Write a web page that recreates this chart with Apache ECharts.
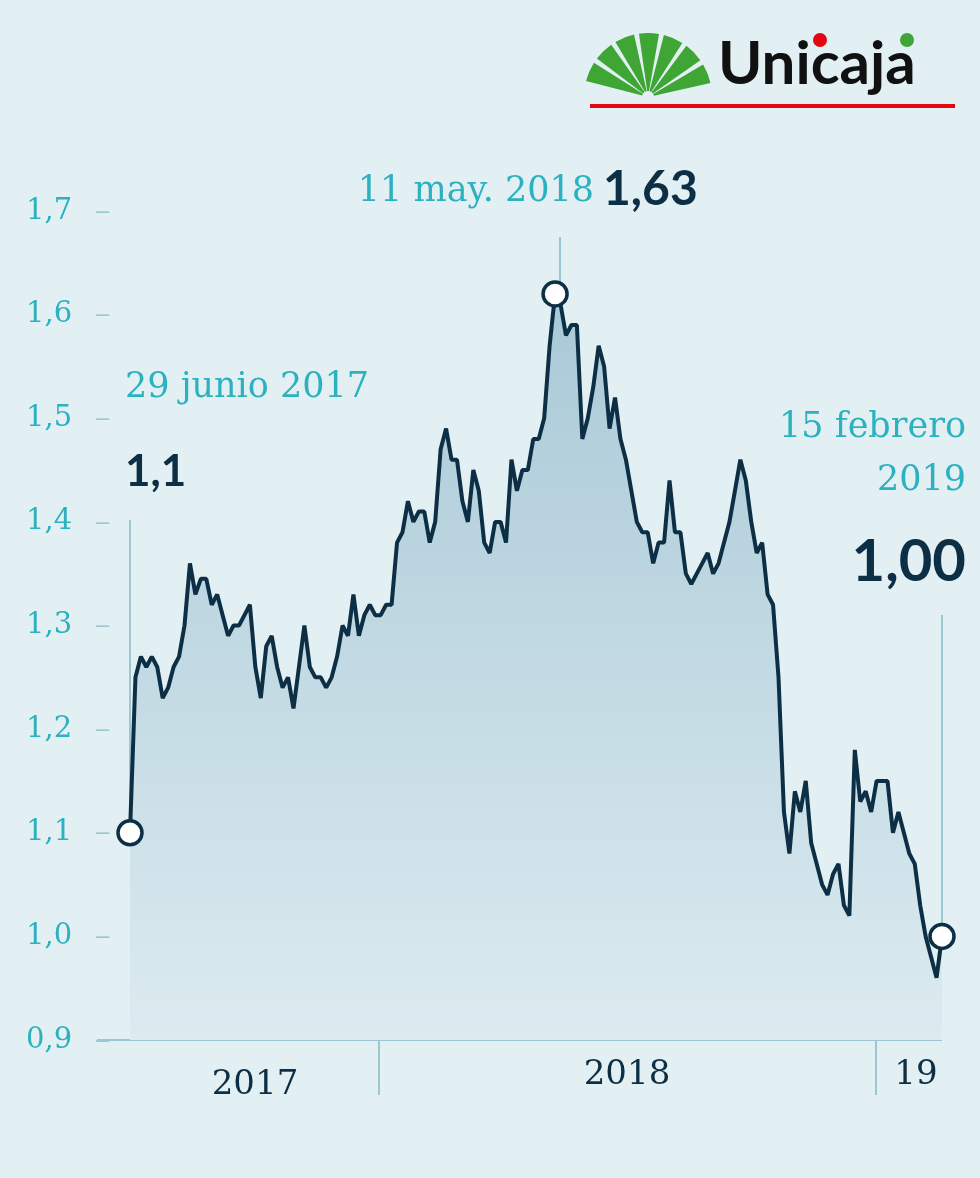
<!DOCTYPE html>
<html><head><meta charset="utf-8">
<script src="https://cdn.jsdelivr.net/npm/echarts@6/dist/echarts.min.js"></script>
<style>html,body{margin:0;padding:0;background:#e3f0f3}#c{width:980px;height:1178px}</style>
</head><body><div id="c"></div>
<script>
const startDate = '29 junio 2017';
const peakDate = '11 may. 2018';
const endDate = '15 febrero 2019';
const yearLabels = ['2017', '2018', '19'];
const yTicks = [0.9, 1.0, 1.1, 1.2, 1.3, 1.4, 1.5, 1.6, 1.7];
const prices = [1.10,1.25,1.27,1.26,1.27,1.26,1.23,1.24,1.26,1.27,1.30,1.36,1.33,1.345,1.345,1.32,1.33,1.31,1.29,1.30,
1.30,1.31,1.32,1.26,1.23,1.28,1.29,1.26,1.24,1.25,1.22,1.26,1.30,1.26,1.25,1.25,1.24,1.25,1.27,1.30,
1.29,1.33,1.29,1.31,1.32,1.31,1.31,1.32,1.32,1.38,1.39,1.42,1.40,1.41,1.41,1.38,1.40,1.47,1.49,1.46,
1.46,1.42,1.40,1.45,1.43,1.38,1.37,1.40,1.40,1.38,1.46,1.43,1.45,1.45,1.48,1.48,1.50,1.57,1.62,1.61,
1.58,1.59,1.59,1.48,1.50,1.53,1.57,1.55,1.49,1.52,1.48,1.46,1.43,1.40,1.39,1.39,1.36,1.38,1.38,1.44,
1.39,1.39,1.35,1.34,1.35,1.36,1.37,1.35,1.36,1.38,1.40,1.43,1.46,1.44,1.40,1.37,1.38,1.33,1.32,1.25,
1.12,1.08,1.14,1.12,1.15,1.09,1.07,1.05,1.04,1.06,1.07,1.03,1.02,1.18,1.13,1.14,1.12,1.15,1.15,1.15,
1.10,1.12,1.10,1.08,1.07,1.03,1.00,0.98,0.96,1.00];
const days = prices.map((_, i) => i);
const highlights = [[0, 1.10], [78, 1.62], [149, 1.00]];

const teal = '#2bb1bf', navy = '#0d2f45';
const chart = echarts.init(document.getElementById('c'));
const serif = 'DejaVu Serif';
const fan = [];
for (let k = 0; k < 7; k++) {
  const a0 = Math.PI * (1.08 + k * 0.125);
  fan.push({type: 'sector', shape: {cx: 648, cy: 97, r: 64, r0: 6, startAngle: a0, endAngle: a0 + Math.PI * 0.1}, style: {fill: '#3fa535'}});
}
chart.setOption({
  backgroundColor: '#e3f0f3',
  animation: false,
  grid: {left: 130, right: 38, top: 211, bottom: 138},
  xAxis: {type: 'category', data: days, boundaryGap: false,
    axisLine: {show: false}, axisTick: {show: false}, axisLabel: {show: false}, splitLine: {show: false}},
  yAxis: {type: 'value', min: 0.9, max: 1.7, interval: 0.1,
    axisLine: {show: false}, axisTick: {show: false}, splitLine: {show: false},
    axisLabel: {margin: 14, formatter: v => '{a|' + v.toFixed(1).replace('.', ',') + '}{b|–}',
      rich: {a: {color: teal, fontSize: 29, fontFamily: serif, width: 70, align: 'left'},
             b: {color: '#9cc7d0', fontSize: 24, width: 20, align: 'left'}}}},
  series: [
    {type: 'line', data: prices, symbol: 'none', smooth: false,
     lineStyle: {color: navy, width: 4},
     areaStyle: {opacity: 1, color: new echarts.graphic.LinearGradient(0, 0, 0, 1, [
       {offset: 0, color: '#a9c9d7'}, {offset: 1, color: '#dcebf0'}])},
     z: 3},
    {type: 'scatter', data: highlights, symbol: 'circle', symbolSize: 24,
     itemStyle: {color: '#fff', borderColor: navy, borderWidth: 3.5, opacity: 1}, z: 5}
  ],
  graphic: [
    {type: 'line', shape: {x1: 97, y1: 1040, x2: 942, y2: 1040}, style: {stroke: '#9cc7d0', lineWidth: 2}},
    {type: 'line', shape: {x1: 379, y1: 1040, x2: 379, y2: 1095}, style: {stroke: '#9cc7d0', lineWidth: 2}},
    {type: 'line', shape: {x1: 876, y1: 1040, x2: 876, y2: 1095}, style: {stroke: '#9cc7d0', lineWidth: 2}},
    {type: 'text', x: 255, y: 1085, style: {text: yearLabels[0], fill: navy, font: '34px "DejaVu Serif"', textAlign: 'center', textVerticalAlign: 'middle'}},
    {type: 'text', x: 627, y: 1075, style: {text: yearLabels[1], fill: navy, font: '34px "DejaVu Serif"', textAlign: 'center', textVerticalAlign: 'middle'}},
    {type: 'text', x: 916, y: 1075, style: {text: yearLabels[2], fill: navy, font: '34px "DejaVu Serif"', textAlign: 'center', textVerticalAlign: 'middle'}},
    {type: 'line', shape: {x1: 130, y1: 520, x2: 130, y2: 822}, style: {stroke: '#9cc7d0', lineWidth: 2}},
    {type: 'line', shape: {x1: 560, y1: 237, x2: 560, y2: 285}, style: {stroke: '#9cc7d0', lineWidth: 2}},
    {type: 'line', shape: {x1: 942, y1: 615, x2: 942, y2: 926}, style: {stroke: '#9cc7d0', lineWidth: 2}},
    {type: 'text', x: 125, y: 388, style: {text: startDate, fill: teal, font: '35px "DejaVu Serif"', textVerticalAlign: 'middle'}},
    {type: 'text', x: 125, y: 472, style: {text: '1,1', fill: navy, font: 'bold 44px Lato', textVerticalAlign: 'middle'}},
    {type: 'text', x: 594, y: 192, style: {text: peakDate, fill: teal, font: '35px "DejaVu Serif"', textAlign: 'right', textVerticalAlign: 'middle'}},
    {type: 'text', x: 603, y: 190, style: {text: '1,63', fill: navy, font: 'bold 48px Lato', textVerticalAlign: 'middle'}},
    {type: 'text', x: 966, y: 428, style: {text: '15 febrero', fill: teal, font: '35px "DejaVu Serif"', textAlign: 'right', textVerticalAlign: 'middle'}},
    {type: 'text', x: 966, y: 481, style: {text: '2019', fill: teal, font: '35px "DejaVu Serif"', textAlign: 'right', textVerticalAlign: 'middle'}},
    {type: 'text', x: 966, y: 562, style: {text: '1,00', fill: navy, font: 'bold 58px Lato', textAlign: 'right', textVerticalAlign: 'middle'}},
    ...fan,
    {type: 'text', x: 718, y: 65, style: {text: 'Unicaja', fill: '#111', font: 'bold 60px Lato', textVerticalAlign: 'middle'}},
    {type: 'circle', shape: {cx: 820, cy: 40, r: 7}, style: {fill: '#e30613'}},
    {type: 'circle', shape: {cx: 907, cy: 40, r: 7}, style: {fill: '#3fa535'}},
    {type: 'rect', shape: {x: 590, y: 104, width: 365, height: 4}, style: {fill: '#e30613'}}
  ]
});
</script></body></html>
